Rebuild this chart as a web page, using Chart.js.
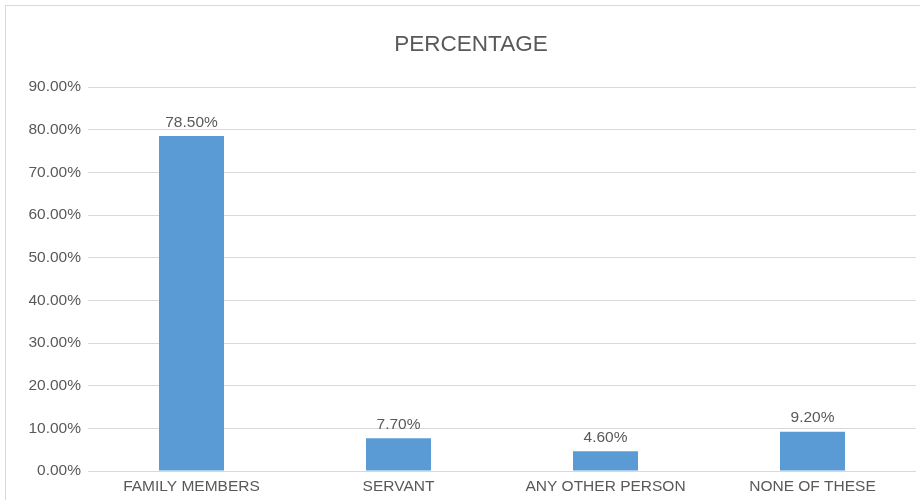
<!DOCTYPE html>
<html>
<head>
<meta charset="utf-8">
<script src="https://cdn.jsdelivr.net/npm/chart.js@4"></script>
<style>
  html, body { margin: 0; padding: 0; background: #fff; overflow: hidden; }
  #wrap {
    position: absolute; left: 5px; top: 5px;
    width: 932px; height: 510px;
    border: 1px solid #d9d9d9; box-sizing: border-box;
  }
</style>
</head>
<body>
<div id="wrap"><canvas id="myChart" width="930" height="508"></canvas></div>
<script>
const categories = ["FAMILY MEMBERS", "SERVANT", "ANY OTHER PERSON", "NONE OF THESE"];
const percentages = [78.5, 7.7, 4.6, 9.2];
const yTicks = [0, 10, 20, 30, 40, 50, 60, 70, 80, 90];

const textColor = "#595959";
const fontFamily = "'Liberation Sans', Arial, sans-serif";

// writes each bar's value just above it
const barLabels = {
  id: "barLabels",
  afterDatasetsDraw(chart) {
    const ctx = chart.ctx;
    const meta = chart.getDatasetMeta(0);
    ctx.save();
    ctx.fillStyle = textColor;
    ctx.font = "15.5px " + fontFamily;
    ctx.textAlign = "center";
    ctx.textBaseline = "bottom";
    meta.data.forEach(function (bar, i) {
      ctx.fillText(percentages[i].toFixed(2) + "%", bar.x, bar.y - 6);
    });
    ctx.restore();
  }
};

const chartInsertion = document.getElementById("myChart").getContext("2d");
const percentChart = new Chart(chartInsertion, {
  type: "bar",
  data: {
    labels: categories,
    datasets: [
      {
        label: "PERCENTAGE",
        data: percentages,
        backgroundColor: "#5b9bd5",
        borderWidth: 0,
        categoryPercentage: 1,
        barPercentage: 0.314
      }
    ]
  },
  options: {
    responsive: false,
    animation: false,
    layout: { padding: { left: 20, right: 20, top: 0, bottom: 0 } },
    plugins: {
      legend: { display: false },
      tooltip: { enabled: false },
      title: {
        display: true,
        text: "PERCENTAGE",
        color: textColor,
        font: { family: fontFamily, size: 22.5, weight: "normal" },
        padding: { top: 25, bottom: 29 }
      }
    },
    scales: {
      x: {
        grid: { display: false, drawTicks: false },
        border: { display: false },
        ticks: {
          color: textColor,
          padding: 6,
          maxRotation: 0,
          font: { family: fontFamily, size: 15.5 }
        },
        afterFit(scale) { scale.height = 43; }
      },
      y: {
        min: 0,
        max: 90,
        afterBuildTicks(scale) {
          scale.ticks = yTicks.map(function (v) { return { value: v }; });
        },
        grid: { color: "#d9d9d9", drawTicks: false },
        border: { display: false },
        ticks: {
          color: textColor,
          padding: 7,
          font: { family: fontFamily, size: 15.5 },
          callback: function (v) { return v.toFixed(2) + "%"; }
        },
        afterFit(scale) { scale.width = 62; }
      }
    }
  },
  plugins: [barLabels]
});
</script>
</body>
</html>
